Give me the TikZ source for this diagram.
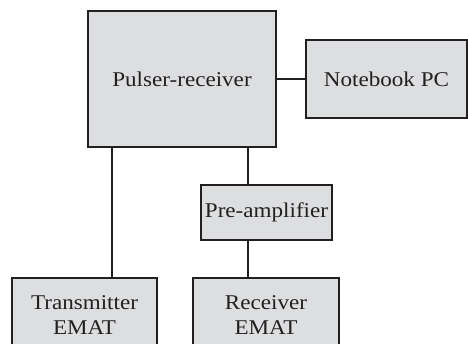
\documentclass[tikz,border=0pt]{standalone}
\usepackage{fontspec}
\setmainfont{Liberation Serif}[FakeStretch=1.1]
\definecolor{boxfill}{HTML}{DDDEE0}
\definecolor{inkline}{HTML}{231F20}
\begin{document}
\begin{tikzpicture}[x=1pt,y=1pt,
  unit/.style={draw=inkline, fill=boxfill, line width=1.3pt, inner sep=0pt,
    align=center, font=\fontsize{21}{25}\selectfont, text=inkline},
  wire/.style={draw=inkline, line width=1.5pt}]
\useasboundingbox (0,0) rectangle (468,343);
\clip (0,0) rectangle (468,343);
% blocks
\node[unit, minimum width=188pt, minimum height=136pt] (pr) at (182,264) {Pulser-receiver};
\node[unit, minimum width=161pt, minimum height=78pt] (pc) at (386.5,264) {Notebook PC};
\node[unit, minimum width=131pt, minimum height=55pt] (pa) at (266.5,130.5) {Pre-amplifier};
\node[unit, minimum width=145pt, minimum height=74pt] (tx) at (84.5,28) {Transmitter\\EMAT};
\node[unit, minimum width=146pt, minimum height=74pt] (rx) at (266,28) {Receiver\\EMAT};
% wiring
\coordinate (txline) at (112,0);
\coordinate (rxline) at (248,0);
\draw[wire] (pr.east) -- (pc.west);
\draw[wire] (txline |- pr.south) -- (txline |- tx.north);
\draw[wire] (rxline |- pr.south) -- (rxline |- pa.north);
\draw[wire] (rxline |- pa.south) -- (rxline |- rx.north);
\end{tikzpicture}
\end{document}
